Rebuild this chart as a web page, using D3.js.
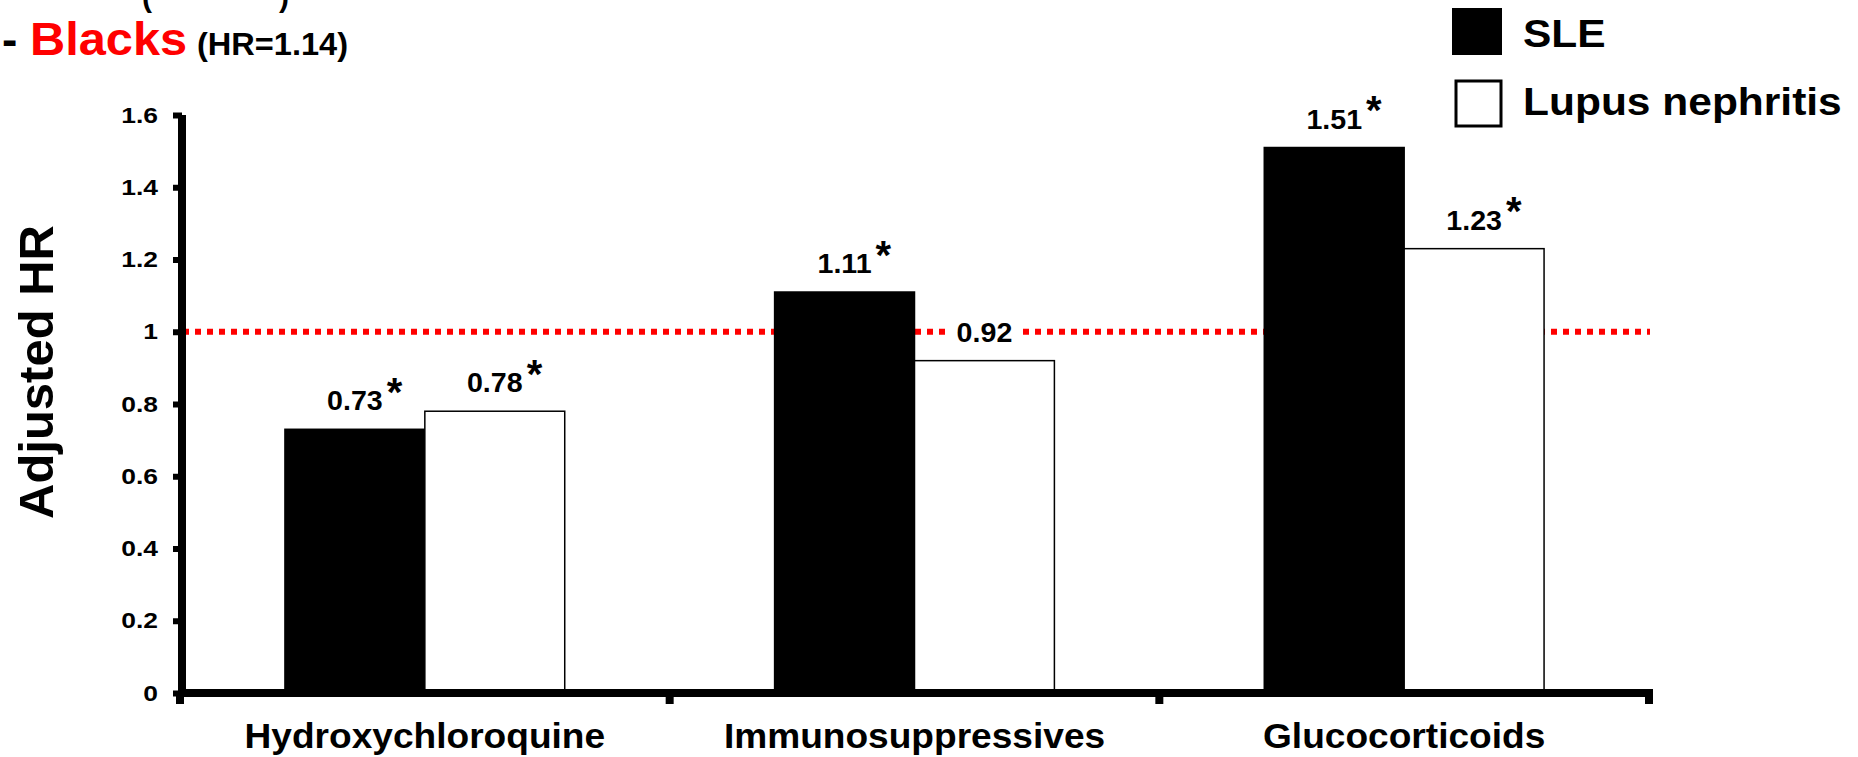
<!DOCTYPE html>
<html>
<head>
<meta charset="utf-8">
<script src="https://cdn.jsdelivr.net/npm/d3@7/dist/d3.min.js"></script>
<style>
  html, body { margin: 0; padding: 0; background: #fff; }
  svg { display: block; font-family: "Liberation Sans", Arial, Helvetica, sans-serif; font-weight: bold; }
</style>
</head>
<body>
<svg id="chart" width="1858" height="757"></svg>
<script>
// Adjusted hazard ratios by medication, SLE cohort vs lupus nephritis cohort
const categories = ["Hydroxychloroquine", "Immunosuppressives", "Glucocorticoids"];
const seriesNames = ["SLE", "Lupus nephritis"];
const sleValues = [0.73, 1.11, 1.51];
const lupusNephritisValues = [0.78, 0.92, 1.23];
const sleSignificant = [true, true, true];
const lupusNephritisSignificant = [true, false, true];
const yTickValues = [0, 0.2, 0.4, 0.6, 0.8, 1, 1.2, 1.4, 1.6];
const referenceHR = 1;
const subgroupLabel = "Blacks";
const subgroupHR = "(HR=1.14)";

const svg = d3.select("#chart");

const y = d3.scaleLinear().domain([0, 1.6]).range([693, 115]);
const x = d3.scaleBand().domain(categories).range([180, 1649]);
const xInner = d3.scaleBand().domain(seriesNames)
  .range([x.bandwidth() * 0.2143, x.bandwidth() * 0.7857]);

const fills = { "SLE": "#000", "Lupus nephritis": "#fff" };

// Text drawn slightly widened (the typeface of the slide is broader than Arial)
function wideText(parent, px, py, str, size, sx, anchor) {
  return parent.append("text")
    .attr("transform", `translate(${px},${py}) scale(${sx},1)`)
    .attr("text-anchor", anchor || "start")
    .attr("font-size", size)
    .text(str);
}

// Heading lines (upper one is cut off by the top edge)
svg.append("text").attr("x", 142).attr("y", 7).attr("font-size", 30).text("(");
svg.append("text").attr("x", 279).attr("y", 7).attr("font-size", 30).text(")");
svg.append("text").attr("x", 2).attr("y", 55).attr("font-size", 46).text("-");
wideText(svg, 30, 55, subgroupLabel, 46, 1.06).attr("fill", "#ff0000");
wideText(svg, 197, 55, subgroupHR, 31, 1.05).attr("fill", "#000");

// Reference line at HR = 1
svg.append("line")
  .attr("x1", 183).attr("x2", 1650)
  .attr("y1", y(referenceHR)).attr("y2", y(referenceHR))
  .attr("stroke", "#ff0000").attr("stroke-width", 6)
  .attr("stroke-dasharray", "6,6");

// Bars
const rows = categories.map((c, i) => ({
  category: c,
  values: [
    { series: "SLE", value: sleValues[i], sig: sleSignificant[i] },
    { series: "Lupus nephritis", value: lupusNephritisValues[i], sig: lupusNephritisSignificant[i] }
  ]
}));

const groups = svg.append("g").selectAll("g").data(rows).join("g")
  .attr("transform", d => `translate(${x(d.category)},0)`);

groups.selectAll("rect").data(d => d.values).join("rect")
  .attr("x", d => xInner(d.series))
  .attr("width", xInner.bandwidth())
  .attr("y", d => y(d.value))
  .attr("height", d => y(0) - y(d.value))
  .attr("fill", d => fills[d.series])
  .attr("stroke", "#000")
  .attr("stroke-width", 1.5);

// Value labels (on a white backing) with significance marks
const labelSx = 1.06;
groups.each(function(d) {
  const g = d3.select(this);
  d.values.forEach(v => {
    const cx = xInner(v.series) + xInner.bandwidth() / 2;
    const base = y(v.value) - 19;
    const back = g.append("rect").attr("fill", "#fff");
    const t = wideText(g, cx, base, v.value.toFixed(2), 27, labelSx, "middle");
    const w = t.node().getComputedTextLength() * labelSx;
    back.attr("x", cx - w / 2 - 8).attr("width", w + 16)
      .attr("y", base - 21).attr("height", 24);
    if (v.sig) {
      g.append("text")
        .attr("x", cx + w / 2 + 4).attr("y", base - 4.5)
        .attr("font-size", 40)
        .text("*");
    }
  });
});

// Y axis
const tickSx = 1.2;
const yAxis = d3.axisLeft(y).tickValues(yTickValues)
  .tickFormat(d3.format("~g"))
  .tickSizeInner(9).tickSizeOuter(0).tickPadding(15);
const gy = svg.append("g").attr("transform", "translate(182,0)").call(yAxis);
gy.select(".domain").attr("stroke", "#000").attr("stroke-width", 8)
  .attr("d", `M0,${y(1.6)}V${y(0) + 4}`);
gy.selectAll(".tick line").attr("stroke", "#000").attr("stroke-width", 6);
gy.selectAll(".tick text")
  .attr("font-size", 22).attr("font-family", null).attr("fill", "#000")
  .attr("x", -24 / tickSx)
  .attr("transform", `scale(${tickSx},1)`);

// X axis
const gx = svg.append("g").attr("transform", `translate(0,${y(0)})`);
gx.append("path")
  .attr("d", `M178,0H${x.range()[1] + 4}`)
  .attr("stroke", "#000").attr("stroke-width", 8).attr("fill", "none");
const boundaries = categories.map(c => x(c)).concat([x.range()[1]]);
gx.selectAll("line.sep").data(boundaries).join("line")
  .attr("class", "sep")
  .attr("x1", d => d).attr("x2", d => d)
  .attr("y1", 0).attr("y2", 11)
  .attr("stroke", "#000").attr("stroke-width", 8);
categories.forEach(c => {
  wideText(gx, x(c) + x.bandwidth() / 2, 55, c, 35, 1.06, "middle");
});

// Y axis title
svg.append("text")
  .attr("transform", "translate(53,372) rotate(-90)")
  .attr("text-anchor", "middle")
  .attr("font-size", 49)
  .text("Adjusted HR");

// Legend
const legend = svg.append("g");
legend.append("rect").attr("x", 1452).attr("y", 8).attr("width", 50).attr("height", 47)
  .attr("fill", fills["SLE"]);
legend.append("rect").attr("x", 1456).attr("y", 81).attr("width", 45).attr("height", 45)
  .attr("fill", fills["Lupus nephritis"]).attr("stroke", "#000").attr("stroke-width", 3);
wideText(legend, 1523, 47, seriesNames[0], 39, 1.09);
wideText(legend, 1523, 115, seriesNames[1], 39, 1.09);
</script>
</body>
</html>
